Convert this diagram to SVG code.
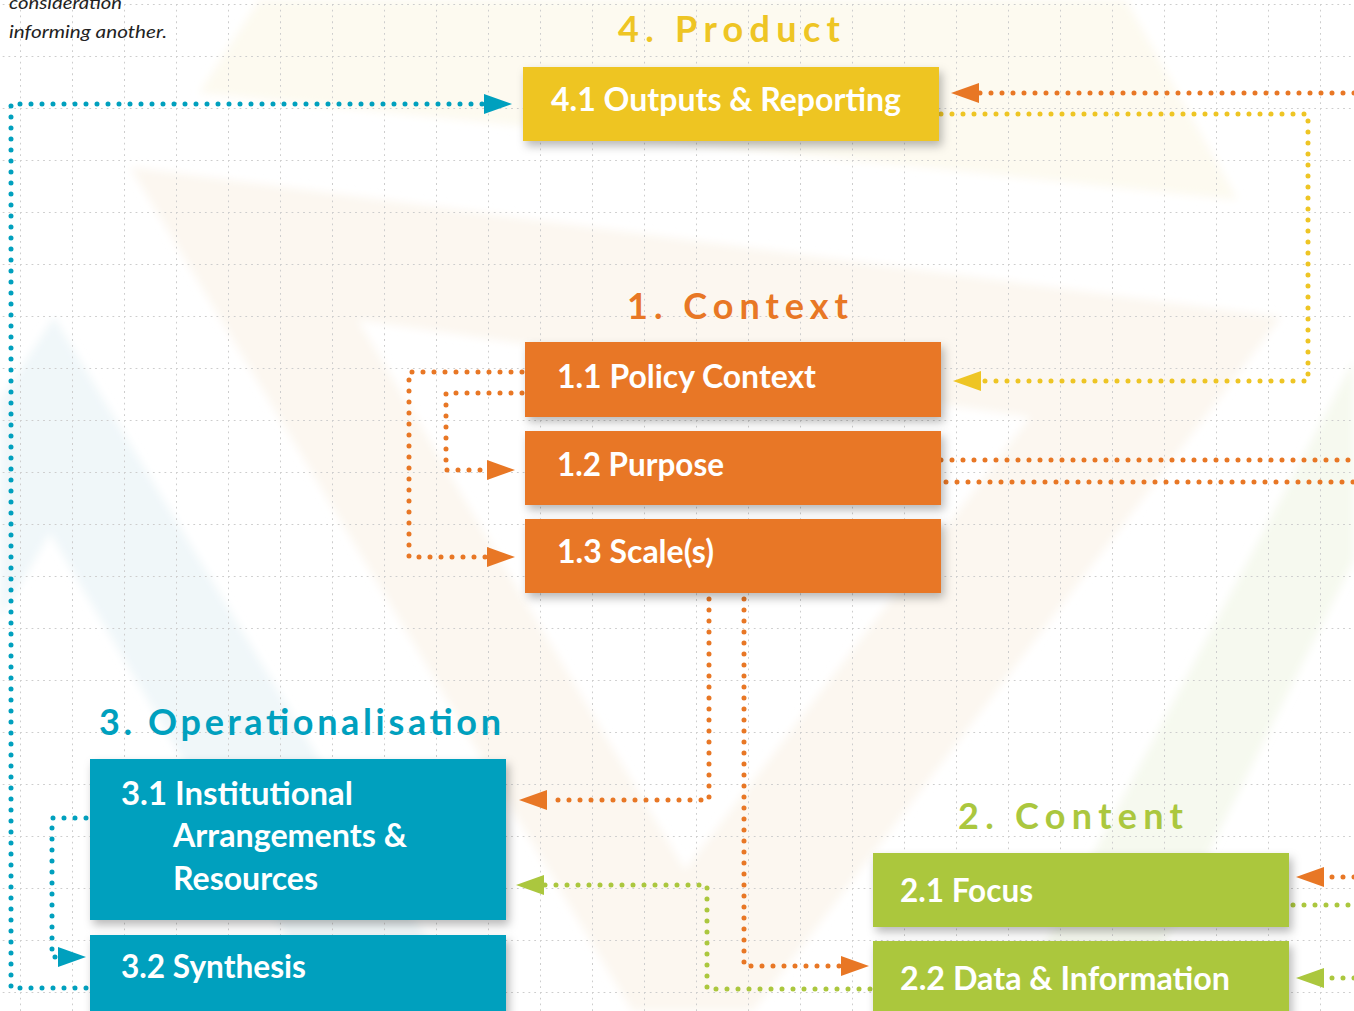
<svg xmlns="http://www.w3.org/2000/svg" width="1354" height="1011" viewBox="0 0 1354 1011">
  <defs>
    <pattern id="grid" patternUnits="userSpaceOnUse" x="20" y="4" width="52" height="52">
      <line x1="0" y1="0" x2="52" y2="0" stroke="#cdcdcd" stroke-width="2" stroke-dasharray="1.8 3.98"/>
      <line x1="0" y1="0" x2="0" y2="52" stroke="#cdcdcd" stroke-width="2" stroke-dasharray="1.8 3.98"/>
    </pattern>
    <filter id="shadow" x="-10%" y="-30%" width="125%" height="170%">
      <feDropShadow dx="3" dy="5" stdDeviation="5" flood-color="#000" flood-opacity="0.28"/>
    </filter>
    <filter id="soft" x="-5%" y="-5%" width="110%" height="110%">
      <feGaussianBlur stdDeviation="4"/>
    </filter>
    <marker id="aO" viewBox="0 0 28 20" refX="0" refY="10" markerWidth="28" markerHeight="20" markerUnits="userSpaceOnUse" orient="auto">
      <path d="M0,0 L28,10 L0,20 Z" fill="#E87725"/>
    </marker>
    <marker id="aY" viewBox="0 0 28 20" refX="0" refY="10" markerWidth="28" markerHeight="20" markerUnits="userSpaceOnUse" orient="auto">
      <path d="M0,0 L28,10 L0,20 Z" fill="#EEC524"/>
    </marker>
    <marker id="aT" viewBox="0 0 28 20" refX="0" refY="10" markerWidth="28" markerHeight="20" markerUnits="userSpaceOnUse" orient="auto">
      <path d="M0,0 L28,10 L0,20 Z" fill="#00A0BE"/>
    </marker>
    <marker id="aG" viewBox="0 0 28 20" refX="0" refY="10" markerWidth="28" markerHeight="20" markerUnits="userSpaceOnUse" orient="auto">
      <path d="M0,0 L28,10 L0,20 Z" fill="#ABC73E"/>
    </marker>
    <style>
      .dot { fill: none; stroke-width: 5; stroke-linecap: round; stroke-linejoin: round; stroke-dasharray: 0 11; }
      .o { stroke: #E87725; }
      .y { stroke: #EEC524; }
      .t { stroke: #00A0BE; }
      .g { stroke: #ABC73E; }
      .box { filter: url(#shadow); }
      .lbl { font-family: Lato, "Open Sans", "Liberation Sans", sans-serif; font-weight: 700; font-size: 32px; fill: #ffffff; }
      .ttl { font-family: Lato, "Open Sans", "Liberation Sans", sans-serif; font-weight: 700; font-size: 36px; }
      .note { font-family: Lato, "Open Sans", "Liberation Sans", sans-serif; font-style: italic; font-size: 18px; fill: #222222; }
    </style>
  </defs>

  <!-- background -->
  <rect x="0" y="0" width="1354" height="1011" fill="#ffffff"/>
  <g id="background" filter="url(#soft)">
    <polygon points="259,0 1126,0 1238,200 199,93" fill="#fdfaf0"/>
    <path d="M130,167 L1281,317 L753,1011 L632,1011 Z M358,320 L685,870 L1030,417 Z" fill="#fcf7f0" fill-rule="evenodd"/>
    <path d="M54,317 L470,1011 L0,1011 L0,400 Z M50,533 L330,1011 L0,1011 L0,620 Z" fill="#f0f7f9" fill-rule="evenodd"/>
    <polygon points="1354,360 1354,560 1130,1011 1010,1011" fill="#f6f9ef"/>
  </g>
  <rect x="0" y="0" width="1354" height="1011" fill="url(#grid)"/>

  <!-- note text -->
  <g id="note">
    <text class="note" x="9" y="9" textLength="113" lengthAdjust="spacingAndGlyphs">consideration</text>
    <text class="note" x="9" y="38" textLength="158" lengthAdjust="spacingAndGlyphs">informing another.</text>
  </g>

  <!-- connectors -->
  <g id="connectors">
    <path class="dot t" d="M86 988 L11 988 L11 104 L484 104" marker-end="url(#aT)"/>
    <path class="dot t" d="M86 818 L52 818 L52 957 L58 957" marker-end="url(#aT)"/>
    <path class="dot o" d="M1354 93 L979 93" marker-end="url(#aO)"/>
    <path class="dot y" d="M941 114 L1308 114 L1308 381 L981 381" marker-end="url(#aY)"/>
    <path class="dot o" d="M941 460 L1354 460"/>
    <path class="dot o" d="M946 482 L1354 482"/>
    <path class="dot o" d="M522 372 L409 372 L409 557 L487 557" marker-end="url(#aO)"/>
    <path class="dot o" d="M522 393 L446 393 L446 470 L487 470" marker-end="url(#aO)"/>
    <path class="dot o" d="M709 599 L709 800 L547 800" marker-end="url(#aO)"/>
    <path class="dot o" d="M744 599 L744 966 L841 966" marker-end="url(#aO)"/>
    <path class="dot g" d="M870 989 L707 989 L707 885 L544 885" marker-end="url(#aG)"/>
    <path class="dot g" d="M1293 905 L1354 905"/>
    <path class="dot o" d="M1354 877 L1324 877" marker-end="url(#aO)"/>
    <path class="dot g" d="M1354 978 L1324 978" marker-end="url(#aG)"/>
  </g>

  <!-- titles -->
  <g id="title-product">
    <text class="ttl" x="618" y="42" fill="#EEC524" textLength="222" lengthAdjust="spacing">4. Product</text>
  </g>
  <g id="title-context">
    <text class="ttl" x="627" y="319" fill="#E87725" textLength="221" lengthAdjust="spacing">1. Context</text>
  </g>
  <g id="title-operationalisation">
    <text class="ttl" x="99" y="735" fill="#00A0BE" textLength="402" lengthAdjust="spacing">3. Operationalisation</text>
  </g>
  <g id="title-content">
    <text class="ttl" x="958" y="829" fill="#ABC73E" textLength="225" lengthAdjust="spacing">2. Content</text>
  </g>

  <!-- nodes -->
  <g id="node-4-1">
    <rect class="box" x="523" y="67" width="416" height="74" fill="#EEC524"/>
    <text class="lbl" x="551" y="111" textLength="350" lengthAdjust="spacingAndGlyphs">4.1 Outputs &amp; Reporting</text>
  </g>
  <g id="node-1-1">
    <rect class="box" x="525" y="342" width="416" height="75" fill="#E87725"/>
    <text class="lbl" x="557" y="388" textLength="259" lengthAdjust="spacingAndGlyphs">1.1 Policy Context</text>
  </g>
  <g id="node-1-2">
    <rect class="box" x="525" y="431" width="416" height="74" fill="#E87725"/>
    <text class="lbl" x="557" y="476" textLength="167" lengthAdjust="spacingAndGlyphs">1.2 Purpose</text>
  </g>
  <g id="node-1-3">
    <rect class="box" x="525" y="519" width="416" height="74" fill="#E87725"/>
    <text class="lbl" x="557" y="563" textLength="157" lengthAdjust="spacingAndGlyphs">1.3 Scale(s)</text>
  </g>
  <g id="node-3-1">
    <rect class="box" x="90" y="759" width="416" height="161" fill="#00A0BE"/>
    <text class="lbl" x="121" y="805" textLength="232" lengthAdjust="spacingAndGlyphs">3.1 Institutional</text>
    <text class="lbl" x="173" y="847" textLength="234" lengthAdjust="spacingAndGlyphs">Arrangements &amp;</text>
    <text class="lbl" x="173" y="890" textLength="145" lengthAdjust="spacingAndGlyphs">Resources</text>
  </g>
  <g id="node-3-2">
    <rect class="box" x="90" y="935" width="416" height="90" fill="#00A0BE"/>
    <text class="lbl" x="121" y="978" textLength="185" lengthAdjust="spacingAndGlyphs">3.2 Synthesis</text>
  </g>
  <g id="node-2-1">
    <rect class="box" x="873" y="853" width="416" height="74" fill="#ABC73E"/>
    <text class="lbl" x="900" y="902" textLength="133" lengthAdjust="spacingAndGlyphs">2.1 Focus</text>
  </g>
  <g id="node-2-2">
    <rect class="box" x="873" y="941" width="416" height="84" fill="#ABC73E"/>
    <text class="lbl" x="900" y="990" textLength="330" lengthAdjust="spacingAndGlyphs">2.2 Data &amp; Information</text>
  </g>
</svg>
